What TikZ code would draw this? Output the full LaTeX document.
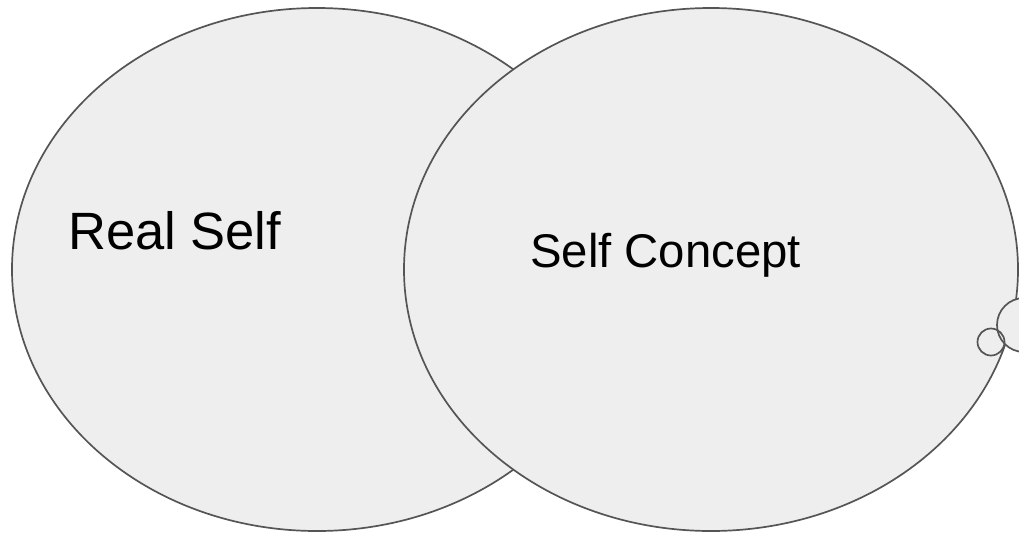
\documentclass[tikz,border=0pt]{standalone}
\usepackage{fontspec}
\setmainfont{Liberation Sans}
\usetikzlibrary{shapes.geometric}
\definecolor{shapefill}{HTML}{EEEEEE}
\definecolor{shapeline}{HTML}{555555}
\tikzset{
  blob/.style={ellipse, draw=shapeline, fill=shapefill, line width=1.7pt, inner sep=0pt},
  bubble/.style={circle, draw=shapeline, line width=1.7pt, inner sep=0pt},
  lbl/.style={anchor=base west, inner sep=0pt, text=black}
}
\begin{document}
\begin{tikzpicture}[x=1pt,y=-1pt]
\useasboundingbox (0,0) rectangle (1019,536);
\clip (0,0) rectangle (1019,536);
\node[blob, minimum width=610pt, minimum height=523pt] (real) at (317,269.5) {};
\node[blob, minimum width=614pt, minimum height=523pt] (concept) at (711,269.5) {};
\node[bubble, fill=shapefill, minimum size=54pt] (bigbub) at (1024,325) {};
\node[bubble, minimum size=27pt] (smallbub) at (991,342) {};
\node[lbl, font=\fontsize{52.5}{60}\selectfont] (realtxt) at (68,249) {Real Self};
\node[lbl, font=\fontsize{47.3}{56}\selectfont] (concepttxt) at (530,267) {Self Concept};
\end{tikzpicture}
\end{document}
